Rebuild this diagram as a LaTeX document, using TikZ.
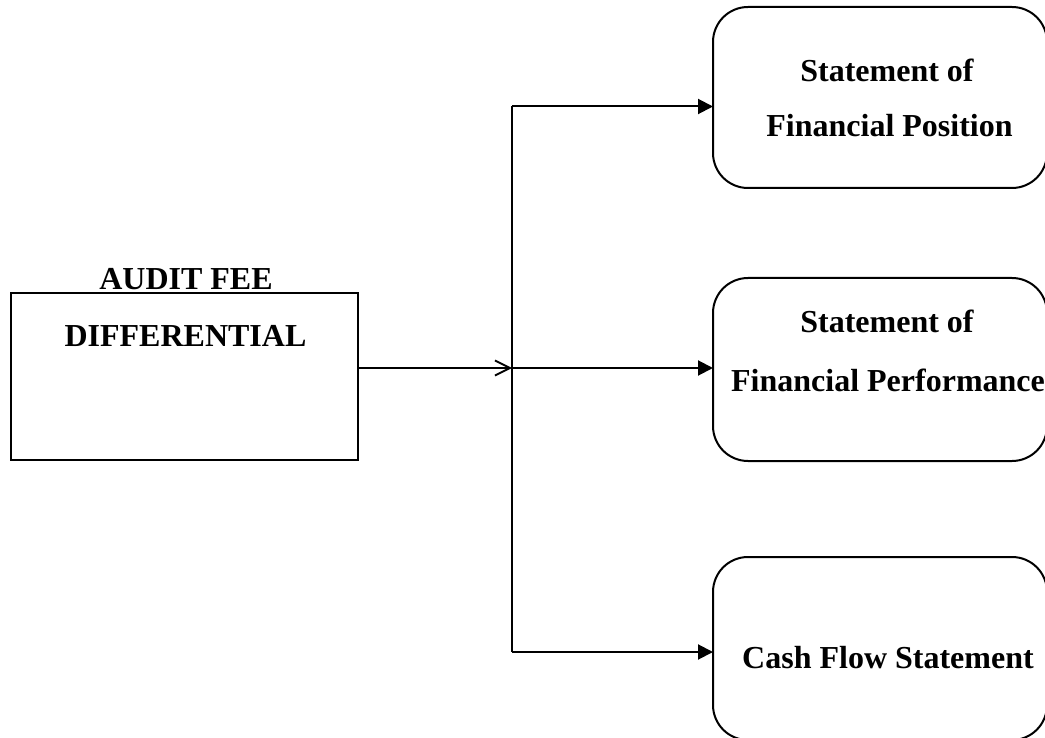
\documentclass[tikz,border=0pt]{standalone}
\usepackage{fontspec}
\setmainfont{Liberation Serif}
\usetikzlibrary{arrows.meta}
\begin{document}
\begin{tikzpicture}[x=1pt,y=-1pt,
  every node/.style={inner sep=0pt,outer sep=0pt},
  lbl/.style={anchor=base,font=\fontsize{32}{38}\selectfont\bfseries},
  srcbox/.style={draw,line width=2pt,minimum width=347pt,minimum height=167pt},
  stmtbox/.style={draw,line width=2pt,rounded corners=35pt,minimum width=334pt},
  conn/.style={line width=2pt},
  fill arrow/.style={conn,-{Triangle[length=15pt,width=15pt]}},
  open arrow/.style={conn,-{Straight Barb[length=15pt,width=15pt,line width=1.8pt]}}]
\useasboundingbox (0,0) rectangle (1045,738);
% source box
\node[srcbox] (src) at (184,376.5) {};
\node[lbl] (t1) at (186,290) {AUDIT FEE};
\node[lbl] (t2) at (185.5,346) {DIFFERENTIAL};
% statement boxes
\node[stmtbox,minimum height=181pt] (b1) at (880,97.5) {};
\node[stmtbox,minimum height=183pt] (b2) at (880,369.5) {};
\node[stmtbox,minimum height=183pt] (b3) at (880,648.5) {};
\node[lbl] (l1a) at (887,82) {Statement of};
\node[lbl] (l1b) at (889.5,136.5) {Financial Position};
\node[lbl] (l2a) at (887,333) {Statement of};
\node[lbl] (l2b) at (888,391) {Financial Performance};
\node[lbl] (l3) at (888,668) {Cash Flow Statement};
% junction coordinates
\coordinate (j1) at (512,106.5);
\coordinate (j2) at (512,368);
\coordinate (j3) at (512,652);
% connectors
\draw[open arrow] (src.east |- j2) -- (j2);
\draw[conn] (j1) -- (j3);
\draw[fill arrow] (j1) -- (j1 -| b1.west);
\draw[fill arrow] (j2) -- (j2 -| b2.west);
\draw[fill arrow] (j3) -- (j3 -| b3.west);
\end{tikzpicture}
\end{document}
